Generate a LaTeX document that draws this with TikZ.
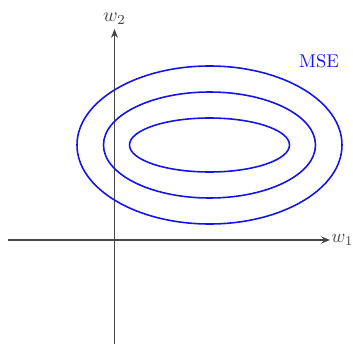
\documentclass[tikz,border=0pt]{standalone}
\usepackage{xcolor}
\usepackage{tikz}
\usetikzlibrary{arrows.meta, positioning}
\definecolor{axisgray}{RGB}{70, 70, 70}
\definecolor{lossblue}{RGB}{20, 20, 230}
\begin{document}
\begin{tikzpicture}[x=0.02cm, y=-0.02cm]
  \useasboundingbox (0, 0) rectangle (353, 345);

  % axes
  \coordinate (xstart) at (8, 240);
  \coordinate (xend) at (330, 240);
  \coordinate (ystart) at (114.5, 344);
  \coordinate (yend) at (114.5, 29);
  \draw[axisgray, line width=1pt, -{Stealth[length=5pt, width=4pt]}] (xstart) -- (xend);
  \draw[axisgray, line width=1pt, -{Stealth[length=5pt, width=4pt]}] (ystart) -- (yend);
  \node[text=axisgray, anchor=west, inner sep=0.5pt, scale=1.08] (w1) at (xend) {$w_1$};
  \node[text=axisgray, anchor=south, inner sep=2pt, scale=1.12] (w2) at (yend) {$w_2$};

  % contour lines of the loss
  \coordinate (centre) at (209.5, 145);
  \draw[lossblue, line width=0.9pt] (centre) ellipse [x radius=132.5, y radius=79];
  \draw[lossblue, line width=0.9pt] (centre) ellipse [x radius=106, y radius=53];
  \draw[lossblue, line width=0.9pt] (centre) ellipse [x radius=80, y radius=27];
  \node[text=lossblue, scale=1.05] (mse) at (319, 61) {MSE};

\end{tikzpicture}
\end{document}
